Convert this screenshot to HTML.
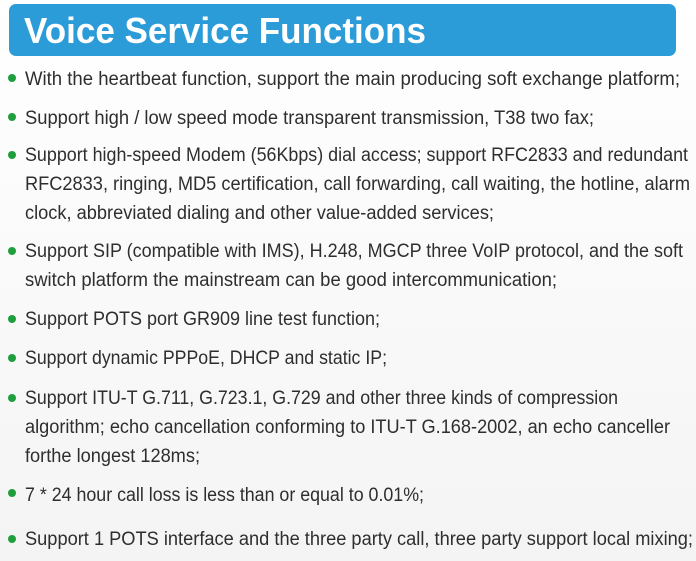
<!DOCTYPE html>
<html><head><meta charset="utf-8"><style>
html,body{margin:0;padding:0;background:#fbfbfb;}
svg{display:block;}
text{font-family:"Liberation Sans",sans-serif;}
</style></head><body>
<svg width="696" height="561" viewBox="0 0 696 561">
<defs><linearGradient id="bg" x1="0" y1="0" x2="0" y2="1"><stop offset="0" stop-color="#ffffff"/><stop offset="1" stop-color="#f4f4f4"/></linearGradient></defs>
<rect width="696" height="561" fill="url(#bg)"/>
<rect x="9" y="4" width="667" height="52" rx="7" fill="#2c9cd9"/>
<text x="24" y="43" font-size="36" font-weight="bold" fill="#ffffff" textLength="402" lengthAdjust="spacingAndGlyphs">Voice Service Functions</text>
<g fill="#2e2e2e" font-size="19">
<circle cx="12" cy="78" r="4" fill="#1f9e3e"/>
<text x="25" y="85" textLength="655" lengthAdjust="spacingAndGlyphs">With the heartbeat function, support the main producing soft exchange platform;</text>
<circle cx="12" cy="117" r="4" fill="#1f9e3e"/>
<text x="25" y="124" textLength="569" lengthAdjust="spacingAndGlyphs">Support high / low speed mode transparent transmission, T38 two fax;</text>
<circle cx="12" cy="155" r="4" fill="#1f9e3e"/>
<text x="25" y="161" textLength="663" lengthAdjust="spacingAndGlyphs">Support high-speed Modem (56Kbps) dial access; support RFC2833 and redundant</text>
<text x="25" y="190" textLength="665" lengthAdjust="spacingAndGlyphs">RFC2833, ringing, MD5 certification, call forwarding, call waiting, the hotline, alarm</text>
<text x="25" y="219" textLength="469" lengthAdjust="spacingAndGlyphs">clock, abbreviated dialing and other value-added services;</text>
<circle cx="12" cy="251" r="4" fill="#1f9e3e"/>
<text x="25" y="257" textLength="658" lengthAdjust="spacingAndGlyphs">Support SIP (compatible with IMS), H.248, MGCP three VoIP protocol, and the soft</text>
<text x="25" y="286" textLength="532" lengthAdjust="spacingAndGlyphs">switch platform the mainstream can be good intercommunication;</text>
<circle cx="12" cy="319" r="4" fill="#1f9e3e"/>
<text x="25" y="325" textLength="355" lengthAdjust="spacingAndGlyphs">Support POTS port GR909 line test function;</text>
<circle cx="12" cy="358" r="4" fill="#1f9e3e"/>
<text x="25" y="364" textLength="362" lengthAdjust="spacingAndGlyphs">Support dynamic PPPoE, DHCP and static IP;</text>
<circle cx="12" cy="398" r="4" fill="#1f9e3e"/>
<text x="25" y="404" textLength="593" lengthAdjust="spacingAndGlyphs">Support ITU-T G.711, G.723.1, G.729 and other three kinds of compression</text>
<text x="25" y="433" textLength="645" lengthAdjust="spacingAndGlyphs">algorithm; echo cancellation conforming to ITU-T G.168-2002, an echo canceller</text>
<text x="25" y="462" textLength="175" lengthAdjust="spacingAndGlyphs">forthe longest 128ms;</text>
<circle cx="12" cy="493" r="4" fill="#1f9e3e"/>
<text x="25" y="501" textLength="399" lengthAdjust="spacingAndGlyphs">7 * 24 hour call loss is less than or equal to 0.01%;</text>
<circle cx="12" cy="539" r="4" fill="#1f9e3e"/>
<text x="25" y="545" textLength="668" lengthAdjust="spacingAndGlyphs">Support 1 POTS interface and the three party call, three party support local mixing;</text>
</g>
</svg>
</body></html>
